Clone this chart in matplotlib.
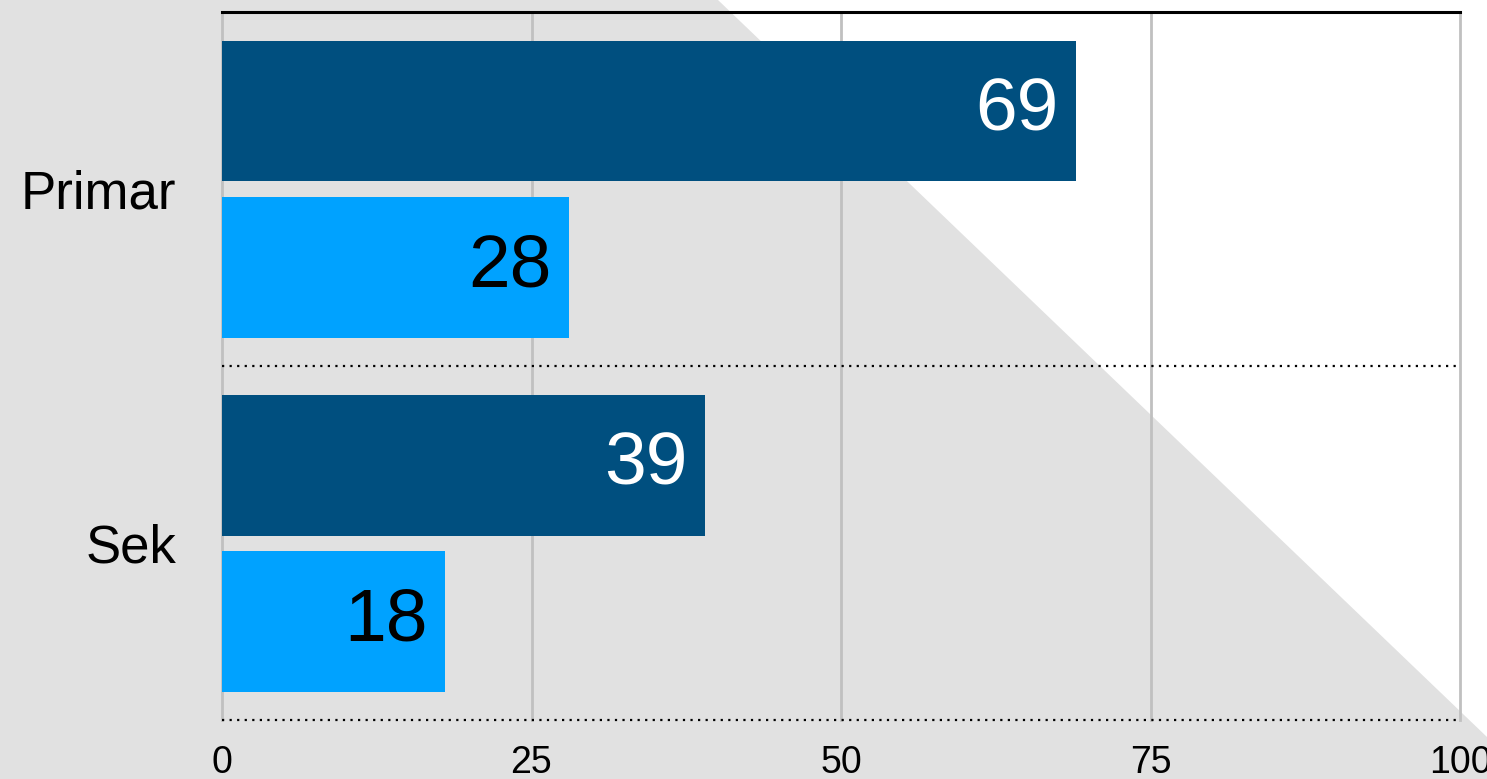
import numpy as np
import matplotlib.pyplot as plt
from matplotlib.patches import Polygon

categories = ["Primar", "Sek"]
dark_values = [69, 39]
light_values = [28, 18]
xticks = [0, 25, 50, 75, 100]

plt.rcParams['font.family'] = ['Liberation Sans', 'DejaVu Sans']

W, H = 1487, 779
fig = plt.figure(figsize=(W / 100, H / 100), dpi=100, facecolor="#e1e1e1")

ax = fig.add_axes([222 / W, (H - 720) / H, (1460 - 222) / W, (720 - 12) / H])
ax.set_facecolor("none")

# white triangle in upper right of background
tri = Polygon([(718 / W, 1), (1, 1), (1, 1 - 737 / H)], closed=True,
              transform=fig.transFigure, facecolor="white", edgecolor="none",
              zorder=0, clip_on=False)
ax.add_patch(tri)

centers = np.arange(len(categories)) + 0.5
h = 141 / 354
off = (141 + 15) / 2 / 354
dark = ax.barh(centers - off, dark_values, height=h, color="#004f7f", zorder=3)
light = ax.barh(centers + off, light_values, height=h, color="#00a2ff", zorder=3)

for b, v in zip(dark, dark_values):
    ax.text(v - 1.4, b.get_y() + b.get_height() / 2, str(v), color="white",
            fontsize=54, ha="right", va="center", zorder=4)
for b, v in zip(light, light_values):
    ax.text(v - 1.4, b.get_y() + b.get_height() / 2, str(v), color="black",
            fontsize=54, ha="right", va="center", zorder=4)

ax.set_xlim(0, 100)
ax.set_ylim(len(categories), 0)
ax.set_xticks(xticks)
ax.set_xticklabels([str(t) for t in xticks], fontsize=27)
ax.set_yticks(centers)
ax.set_yticklabels(categories, fontsize=38)
ax.tick_params(axis="both", length=0)
ax.tick_params(axis="x", pad=18)
ax.tick_params(axis="y", pad=33)

for t in xticks:
    ax.axvline(t, color="#c0c0c0", lw=2, zorder=1, clip_on=False)
ax.axhline(0, color="black", lw=2.2, zorder=2, clip_on=False)
for y in range(1, len(categories) + 1):
    ax.axhline(y, color="black", lw=1.6, ls=(0, (1, 2.4)), zorder=2, clip_on=False)

for s in ax.spines.values():
    s.set_visible(False)

fig.savefig("out.png", dpi=100, facecolor=fig.get_facecolor())
